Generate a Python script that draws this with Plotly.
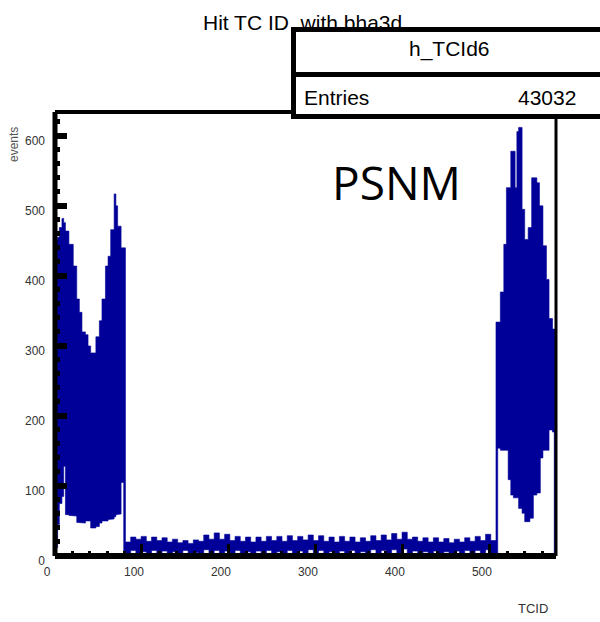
import plotly.graph_objects as go

# ---------------- data ----------------
# forward endcap TCs: bin-group edges (TC id) and upper / lower envelope of counts
fwd_edges = [1, 3, 5, 8, 10, 12, 16, 21, 25, 28, 31, 35, 38, 41, 47, 51, 54, 58, 61, 64, 68, 70, 72, 76, 79, 81]
fwd_hi = [452, 455, 469, 482, 476, 464, 445, 414, 367, 348, 320, 316, 300, 290, 313, 336, 367, 414, 428, 466, 517, 500, 471, 440, 440]
fwd_lo = [12, 45, 75, 85, 128, 59, 58, 57, 48, 47, 47, 50, 50, 40, 42, 47, 50, 50, 52, 53, 56, 59, 60, 105, 0]

# barrel TCs: groups of 6 TC ids
brl_edges = list(range(81, 508, 6))
brl_hi = [20, 27, 24, 28, 21, 27, 22, 26, 20, 24, 19, 22, 18, 23, 21, 30, 24, 33, 24, 31,
          22, 28, 21, 27, 20, 27, 21, 28, 22, 28, 21, 29, 22, 28, 23, 30, 22, 29, 21, 27,
          20, 28, 21, 27, 20, 26, 21, 29, 22, 30, 23, 32, 24, 34, 24, 27, 21, 26, 20, 26,
          20, 25, 19, 24, 20, 26, 21, 28, 22, 31, 22]
brl_lo = [0, 8, 0, 6, 0, 8, 2, 7, 0, 6, 0, 8, 0, 5, 0, 9, 0, 8, 3, 7,
          0, 8, 0, 6, 0, 7, 0, 8, 2, 6, 0, 8, 0, 7, 0, 9, 0, 8, 0, 6,
          0, 7, 0, 8, 0, 6, 0, 9, 0, 8, 2, 9, 0, 10, 0, 7, 0, 6, 0, 7,
          0, 6, 0, 7, 0, 8, 0, 8, 0, 9, 0]

# backward endcap TCs
bwd_edges = [507, 509, 512, 516, 519, 521, 524, 527, 529, 531, 533, 537, 540, 544, 546, 548, 550, 554, 557, 558, 561, 565, 568, 572, 574, 576]
bwd_hi = [334, 334, 377, 445, 526, 526, 578, 578, 526, 606, 612, 495, 452, 469, 469, 540, 540, 533, 500, 500, 443, 395, 339, 324, 324]
bwd_lo = [0, 154, 151, 151, 151, 109, 87, 83, 83, 83, 68, 61, 49, 49, 54, 54, 87, 90, 90, 140, 151, 151, 180, 177, 0]

x_ticks = [0, 100, 200, 300, 400, 500]
y_ticks = [0, 100, 200, 300, 400, 500, 600]

title_text = "Hit TC ID  with bha3d"
hist_name = "h_TCId6"
entries = "43032"
x_title = "TCID"
y_title = "events"
tag_text = "PSNM"

# ---------------- build band outline from the data ----------------
def band(edges, hi, lo):
    xs, ys = [], []
    for i, v in enumerate(hi):
        xs += [edges[i], edges[i + 1]]
        ys += [v, v]
    for i in range(len(lo) - 1, -1, -1):
        xs += [edges[i + 1], edges[i]]
        ys += [lo[i], lo[i]]
    return xs, ys

X, Y = [], []
for e, h, l in [(fwd_edges, fwd_hi, fwd_lo), (brl_edges, brl_hi, brl_lo), (bwd_edges, bwd_hi, bwd_lo)]:
    xs, ys = band(e, h, l)
    X += xs + [xs[0], None]
    Y += ys + [ys[0], None]

BLUE = "#000099"
fig = go.Figure()
fig.add_trace(go.Scatter(x=X, y=Y, mode="lines", fill="toself", fillcolor=BLUE,
                         line=dict(color=BLUE, width=0.6), hoverinfo="skip"))

W, H = 600, 622
L, R, T, B = 55, 44, 112, 66
PW, PH = W - L - R, H - T - B

def xp(px):
    return (px - L) / PW

def yp(py):
    return (H - B - py) / PH

NARROW = "Liberation Sans Narrow, Arial Narrow, Liberation Sans, sans-serif"

fig.update_layout(
    width=W, height=H, margin=dict(l=L, r=R, t=T, b=B),
    paper_bgcolor="white", plot_bgcolor="white", showlegend=False,
    xaxis=dict(range=[0, 576], tickvals=x_ticks, ticks="inside", ticklen=12, tickwidth=3,
               tickcolor="black", showgrid=False, zeroline=False, showline=False,
               minor=dict(dtick=20, tick0=0, ticks="inside", ticklen=5, tickwidth=3, tickcolor="black", showgrid=False),
               tickfont=dict(family=NARROW, size=12, color="#333"), ticklabelshift=-8,
               ticklabelstandoff=7, layer="above traces"),
    yaxis=dict(range=[0, 634], tickvals=y_ticks, ticks="inside", ticklen=12, tickwidth=6,
               tickcolor="black", showgrid=False, zeroline=False, showline=False,
               minor=dict(dtick=20, tick0=0, ticks="inside", ticklen=5, tickwidth=5, tickcolor="black", showgrid=False),
               tickfont=dict(family=NARROW, size=12, color="#333"), ticklabelshift=5,
               ticklabelstandoff=9, layer="above traces"),
)

# frame
fig.add_shape(type="line", xref="paper", yref="paper", x0=0, x1=0, y0=0, y1=1, line=dict(color="black", width=5), layer="above")
fig.add_shape(type="line", xref="paper", yref="paper", x0=0, x1=1, y0=1, y1=1, line=dict(color="black", width=4), layer="above")
fig.add_shape(type="line", xref="paper", yref="paper", x0=0, x1=1, y0=0, y1=0, line=dict(color="black", width=6), layer="above")
fig.add_shape(type="line", xref="paper", yref="paper", x0=1, x1=1, y0=0, y1=1, line=dict(color="black", width=3), layer="above")

anns = []
# title (drawn first so the stats box covers part of it)
anns.append(dict(text=title_text, x=xp(302), y=yp(22), xanchor="center", yanchor="middle",
                 font=dict(family=NARROW, size=21, color="black")))
# stats box rows
anns.append(dict(text=" ", x=xp(291), y=yp(27), xanchor="left", yanchor="top", width=348, height=38,
                 bgcolor="white", bordercolor="black", borderwidth=5, borderpad=1))
anns.append(dict(text=" ", x=xp(291), y=yp(72), xanchor="left", yanchor="top", width=348, height=35,
                 bgcolor="white", bordercolor="black", borderwidth=5, borderpad=1))
anns.append(dict(text=hist_name, x=xp(449), y=yp(49), xanchor="center", yanchor="middle",
                 font=dict(family=NARROW, size=21, color="black")))
anns.append(dict(text="Entries", x=xp(302), y=yp(97), xanchor="left", yanchor="middle",
                 font=dict(family=NARROW, size=21, color="black")))
anns.append(dict(text=entries, x=xp(578), y=yp(97), xanchor="right", yanchor="middle",
                 font=dict(family=NARROW, size=21, color="black")))
anns.append(dict(text=tag_text, x=xp(396), y=yp(182), xanchor="center", yanchor="middle",
                 font=dict(family="Open Sans", size=46, color="black")))
anns.append(dict(text=y_title, x=xp(14), y=yp(145), xanchor="center", yanchor="middle", textangle=-90,
                 font=dict(family="Liberation Sans", size=12, color="#555")))
anns.append(dict(text=x_title, x=xp(533), y=yp(608), xanchor="center", yanchor="middle",
                 font=dict(family=NARROW, size=13, color="#333")))
for a in anns:
    a.update(xref="paper", yref="paper", showarrow=False)
fig.update_layout(annotations=anns)

fig.write_html("out.html")
